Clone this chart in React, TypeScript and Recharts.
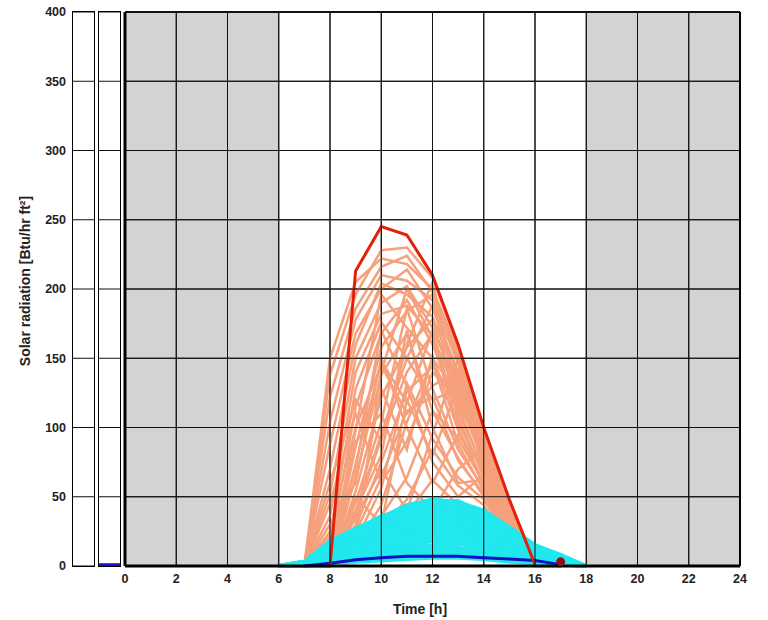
import React from 'react';
import {
	ComposedChart,
	BarChart,
	Bar,
	Line,
	Scatter,
	XAxis,
	YAxis,
	CartesianGrid,
	ReferenceLine,
} from 'recharts';

// hour rows used by every series (6h .. 18h)
const hours = [6, 7, 8, 9, 10, 11, 12, 13, 14, 15, 16, 17, 18];
const xTicks = [0, 2, 4, 6, 8, 10, 12, 14, 16, 18, 20, 22, 24];
const yTicks = [0, 50, 100, 150, 200, 250, 300, 350, 400];

// night stripes (2h each, 0-6 and 18-24 grey)
const nightFill = ['#d3d3d3', '#d3d3d3', '#d3d3d3', '#fff', '#fff', '#fff', '#fff', '#fff', '#fff', '#d3d3d3', '#d3d3d3', '#d3d3d3'];

// measured total radiation per day, hours 7 .. 17
const measuredDays = [
	[0, 150, 205, 222, 218, 200, 155, 92, 42, 6, 0],
	[0, 138, 196, 228, 230, 208, 158, 96, 44, 5, 0],
	[0, 122, 186, 216, 224, 198, 150, 90, 40, 5, 0],
	[0, 104, 178, 210, 206, 192, 146, 88, 38, 4, 0],
	[0, 88, 168, 200, 214, 186, 140, 84, 36, 4, 0],
	[0, 70, 160, 204, 196, 180, 134, 80, 34, 3, 0],
	[0, 52, 150, 190, 202, 172, 128, 78, 32, 3, 0],
	[0, 36, 140, 182, 188, 166, 122, 74, 30, 3, 0],
	[0, 22, 128, 176, 150, 188, 138, 86, 33, 3, 0],
	[0, 12, 115, 168, 192, 160, 112, 70, 28, 2, 0],
	[0, 6, 98, 196, 172, 150, 124, 76, 30, 2, 0],
	[0, 0, 86, 158, 184, 196, 104, 66, 26, 2, 0],
	[0, 0, 74, 148, 118, 170, 132, 72, 28, 2, 0],
	[0, 0, 64, 138, 168, 112, 92, 60, 24, 2, 0],
	[0, 0, 54, 122, 158, 178, 116, 68, 26, 2, 0],
	[0, 0, 46, 104, 186, 128, 84, 56, 22, 1, 0],
	[0, 0, 38, 92, 140, 168, 108, 64, 24, 1, 0],
	[0, 0, 30, 128, 84, 152, 98, 58, 22, 1, 0],
	[0, 0, 24, 64, 112, 122, 76, 52, 20, 1, 0],
	[0, 0, 18, 56, 132, 92, 64, 48, 18, 1, 0],
	[0, 0, 14, 44, 104, 148, 88, 54, 20, 1, 0],
	[0, 0, 10, 36, 64, 112, 78, 50, 18, 1, 0],
	[0, 0, 8, 28, 48, 84, 58, 44, 16, 1, 0],
	[0, 0, 6, 22, 38, 62, 44, 38, 14, 0, 0],
	[0, 0, 4, 16, 30, 44, 34, 30, 12, 0, 0],
	[0, 0, 3, 12, 22, 30, 26, 24, 10, 0, 0],
	[0, 45, 110, 60, 90, 140, 120, 82, 36, 3, 0],
	[0, 30, 60, 150, 100, 60, 95, 70, 30, 2, 0],
	[0, 15, 40, 80, 170, 100, 60, 62, 28, 2, 0],
	[0, 0, 50, 30, 120, 80, 130, 90, 40, 4, 0],
	[0, 0, 90, 110, 60, 40, 70, 85, 38, 3, 0],
	[0, 10, 70, 170, 130, 75, 50, 66, 26, 2, 0],
	[0, 0, 35, 70, 40, 95, 150, 94, 41, 4, 0],
	[0, 60, 120, 90, 160, 205, 118, 80, 34, 3, 0],
	[0, 0, 20, 140, 200, 165, 100, 60, 25, 2, 0],
	[0, 25, 100, 145, 110, 130, 142, 88, 35, 3, 0],
	[0, 0, 40, 95, 150, 120, 128, 98, 45, 5, 0],
	[0, 0, 28, 75, 126, 144, 120, 92, 42, 4, 0],
];

// diffuse radiation per day, hours 6 .. 18
const diffuseDays = [
	[0, 3, 18, 27, 35, 44, 48, 46, 40, 28, 15, 8, 0],
	[0, 3, 17, 26, 36, 41, 46, 47, 38, 27, 14, 7, 0],
	[0, 3, 17, 25, 33, 43, 45, 44, 39, 26, 14, 7, 0],
	[0, 3, 16, 24, 32, 40, 43, 43, 37, 25, 13, 6, 0],
	[0, 3, 15, 23, 31, 38, 42, 41, 36, 25, 13, 6, 0],
	[0, 2, 14, 22, 30, 36, 40, 39, 34, 23, 12, 6, 0],
	[0, 2, 13, 20, 28, 34, 38, 38, 33, 22, 12, 5, 0],
	[0, 2, 12, 19, 27, 33, 36, 36, 31, 21, 11, 5, 0],
	[0, 2, 11, 18, 25, 31, 34, 34, 29, 19, 10, 5, 0],
	[0, 2, 11, 17, 23, 29, 32, 32, 28, 18, 10, 4, 0],
	[0, 2, 10, 15, 22, 27, 30, 30, 26, 17, 9, 4, 0],
	[0, 1, 9, 14, 20, 25, 28, 28, 24, 16, 8, 4, 0],
	[0, 1, 9, 13, 18, 23, 26, 26, 23, 15, 8, 4, 0],
	[0, 1, 8, 12, 17, 21, 24, 24, 21, 14, 7, 3, 0],
	[0, 1, 7, 11, 15, 19, 22, 22, 19, 13, 7, 3, 0],
	[0, 1, 7, 10, 13, 17, 20, 20, 17, 11, 6, 3, 0],
	[0, 1, 6, 9, 12, 15, 18, 18, 15, 10, 5, 2, 0],
	[0, 1, 5, 8, 10, 13, 15, 16, 13, 9, 5, 2, 0],
	[0, 1, 4, 7, 9, 11, 13, 13, 11, 8, 4, 2, 0],
	[0, 1, 4, 6, 7, 9, 11, 11, 9, 6, 3, 2, 0],
	[0, 0, 3, 4, 6, 7, 9, 9, 7, 5, 3, 1, 0],
	[0, 0, 2, 3, 4, 5, 6, 6, 5, 3, 2, 1, 0],
];

// design day and mean diffuse, hours 6 .. 18
const designDay = [null, null, 0, 213, 245, 239, 210, 160, 100, 48, 1, null, null];
const diffuseMean = [null, 0, 2, 4.5, 6, 7, 7, 7, 6, 5, 4, 1, null];
const lateMarker = [{ h: 17, v: 3 }];

// the two narrow columns left of the plot
const sideColumns = [0, 2];

const rows = hours.map((h, i) => {
	const row: Record<string, number | null> = { h };
	measuredDays.forEach((d, k) => {
		row['o' + k] = i >= 1 && i <= 11 ? d[i - 1] : null;
	});
	diffuseDays.forEach((d, k) => {
		row['c' + k] = d[i];
	});
	row.design = designDay[i];
	row.mean = diffuseMean[i];
	return row;
});

const tickStyle = { fontSize: 12.5, fontWeight: 700, fill: '#222', fontFamily: 'Liberation Sans, Arial, sans-serif' };

const App = () => {
	return (
		<div style={{ position: 'absolute', left: 0, top: 0, width: 768, height: 620, background: '#fff' }}>
			<ComposedChart width={768} height={620} data={rows} margin={{ top: 12, right: 0, bottom: 14, left: 65 }}>
				<CartesianGrid stroke='#111' verticalFill={nightFill} fillOpacity={1} />
				<XAxis
					dataKey='h'
					type='number'
					domain={[0, 24]}
					ticks={xTicks}
					height={40}
					tickLine={false}
					axisLine={{ stroke: '#000', strokeWidth: 3 }}
					tick={tickStyle}
				/>
				<YAxis
					domain={[0, 400]}
					ticks={yTicks}
					width={60}
					tickLine={false}
					tickSize={4}
					tickMargin={55}
					axisLine={{ stroke: '#000', strokeWidth: 3 }}
					tick={tickStyle}
				/>
				<YAxis
					yAxisId='right'
					orientation='right'
					domain={[0, 400]}
					ticks={yTicks}
					width={28}
					tickLine={false}
					tickSize={4}
					tickMargin={3}
					axisLine={{ stroke: '#000', strokeWidth: 2 }}
					tick={tickStyle}
				/>
				{measuredDays.map((_, k) => (
					<Line
						key={'o' + k}
						dataKey={'o' + k}
						stroke='#f6a07c'
						strokeWidth={2.5}
						dot={false}
						activeDot={false}
						isAnimationActive={false}
					/>
				))}
				{diffuseDays.map((_, k) => (
					<Line
						key={'c' + k}
						dataKey={'c' + k}
						stroke='#22e8ee'
						strokeWidth={4}
						dot={false}
						activeDot={false}
						isAnimationActive={false}
					/>
				))}
				<Line dataKey='mean' stroke='#1010c8' strokeWidth={3} dot={false} activeDot={false} isAnimationActive={false} />
				<Line dataKey='design' stroke='#e3200c' strokeWidth={3} dot={false} activeDot={false} isAnimationActive={false} />
				<Scatter data={lateMarker} dataKey='v' fill='#8e0f14' isAnimationActive={false} shape='circle' />
				{xTicks.map((t) => (
					<ReferenceLine key={'vx' + t} x={t} stroke='#111' strokeWidth={1} />
				))}
				{yTicks.map((t) => (
					<ReferenceLine key={'hy' + t} y={t} stroke='#111' strokeWidth={t === 400 ? 2 : 1} />
				))}
			</ComposedChart>

			{sideColumns.map((v, i) => (
				<div
					key={i}
					style={{ position: 'absolute', left: i === 0 ? 72 : 98, top: 11, width: 21, height: 554, border: '1px solid #000' }}>
					<BarChart width={21} height={554} data={[{ k: 'a', v }]} margin={{ top: 0, right: 0, bottom: 0, left: 0 }} barCategoryGap={0}>
						<XAxis dataKey='k' hide />
						<YAxis hide domain={[0, 400]} ticks={yTicks} />
						<CartesianGrid vertical={false} stroke='#111' />
						<Bar dataKey='v' fill='#1414d0' isAnimationActive={false} />
					</BarChart>
				</div>
			))}

			<svg width={768} height={620} style={{ position: 'absolute', left: 0, top: 0, pointerEvents: 'none' }}>
				<text
					transform='translate(30,281) rotate(-90)'
					textAnchor='middle'
					style={{ fontSize: 14, fontWeight: 700, fill: '#222', fontFamily: 'Liberation Sans, Arial, sans-serif' }}>
					Solar radiation [Btu/hr ft²]
				</text>
				<text
					x={420}
					y={614}
					textAnchor='middle'
					style={{ fontSize: 14, fontWeight: 700, fill: '#222', fontFamily: 'Liberation Sans, Arial, sans-serif' }}>
					Time [h]
				</text>
			</svg>
		</div>
	);
};

export default App;
